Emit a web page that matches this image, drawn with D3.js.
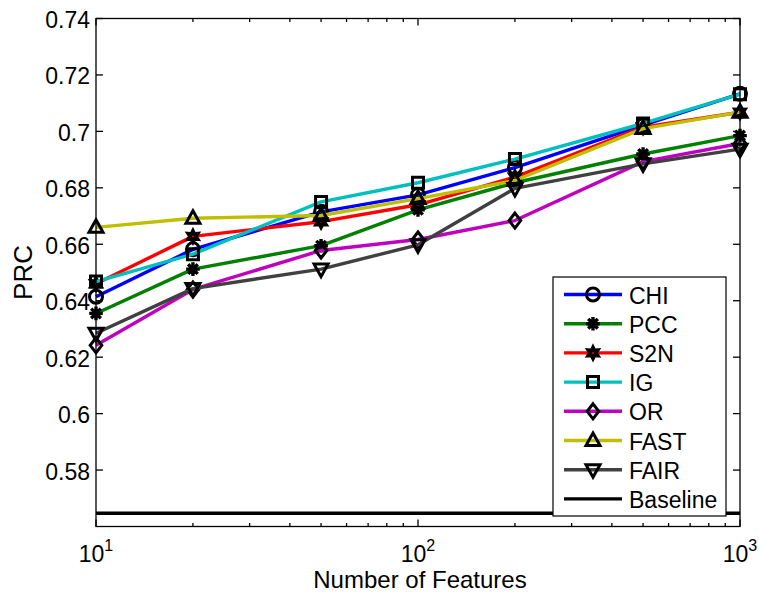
<!DOCTYPE html>
<html>
<head>
<meta charset="utf-8">
<script src="https://cdn.jsdelivr.net/npm/d3@7"></script>
<style>
  html, body { margin: 0; padding: 0; background: #fff; }
  svg { display: block; }
  text { font-family: "Liberation Sans", Arial, Helvetica, sans-serif; fill: #000; }
</style>
</head>
<body>
<svg id="chart" width="759" height="597"></svg>
<script>
// ---------- data ----------
const features = [10, 20, 50, 100, 200, 500, 1000];
const CHI  = [0.6414, 0.6582, 0.6715, 0.6775, 0.6872, 0.7022, 0.7133];
const PCC  = [0.6355, 0.6512, 0.6595, 0.6722, 0.6818, 0.6920, 0.6985];
const S2N  = [0.6460, 0.6628, 0.6680, 0.6740, 0.6838, 0.7015, 0.7068];
const IG   = [0.6468, 0.6565, 0.6750, 0.6818, 0.6902, 0.7028, 0.7132];
const OR   = [0.6242, 0.6440, 0.6578, 0.6617, 0.6684, 0.6893, 0.6957];
const FAST = [0.6660, 0.6692, 0.6702, 0.6762, 0.6826, 0.7010, 0.7068];
const FAIR = [0.6285, 0.6443, 0.6512, 0.6598, 0.6798, 0.6885, 0.6937];
const Baseline = [0.5647, 0.5647, 0.5647, 0.5647, 0.5647, 0.5647, 0.5647];

const seriesNames = ["CHI", "PCC", "S2N", "IG", "OR", "FAST", "FAIR", "Baseline"];
const seriesValues = [CHI, PCC, S2N, IG, OR, FAST, FAIR, Baseline];
const seriesColors = ["#0000ff", "#008000", "#ff0000", "#00bfbf", "#bf00bf", "#bfbf00", "#404040", "#000000"];
const seriesMarkers = ["circle", "asterisk", "hexagram", "square", "diamond", "triangleUp", "triangleDown", "none"];

const yTicks = [0.58, 0.60, 0.62, 0.64, 0.66, 0.68, 0.70, 0.72, 0.74];
const yTickLabels = ["0.58", "0.6", "0.62", "0.64", "0.66", "0.68", "0.7", "0.72", "0.74"];
const xTicks = [10, 100, 1000];
const xTickExponents = ["1", "2", "3"];
const xMinorTicks = [20, 30, 40, 50, 60, 70, 80, 90, 200, 300, 400, 500, 600, 700, 800, 900];
const xLabel = "Number of Features";
const yLabel = "PRC";

// ---------- layout ----------
const L = 96, R = 740, T = 18.5, B = 526.5;
const svg = d3.select("#chart");
const x = d3.scaleLog().domain([10, 1000]).range([L, R]);
const y = d3.scaleLinear().domain([0.56, 0.74]).range([B, T]);

const FS = 23;

// markers
function markerPath(type) {
  const p = d3.path();
  switch (type) {
    case "circle": p.arc(0, 0, 6.5, 0, 2 * Math.PI); break;
    case "square": p.rect(-5.5, -5.5, 11, 11); break;
    case "diamond": p.moveTo(0, -7.5); p.lineTo(5.8, 0); p.lineTo(0, 7.5); p.lineTo(-5.8, 0); p.closePath(); break;
    case "triangleUp": p.moveTo(0, -7.5); p.lineTo(7, 5); p.lineTo(-7, 5); p.closePath(); break;
    case "triangleDown": p.moveTo(0, 7.5); p.lineTo(7, -5); p.lineTo(-7, -5); p.closePath(); break;
    case "hexagram": {
      for (let i = 0; i < 12; i++) {
        const a = -Math.PI / 2 + i * Math.PI / 6;
        const r = i % 2 === 0 ? 7.8 : 4.2;
        if (i === 0) p.moveTo(r * Math.cos(a), r * Math.sin(a)); else p.lineTo(r * Math.cos(a), r * Math.sin(a));
      }
      p.closePath();
      break;
    }
    case "asterisk": {
      for (let i = 0; i < 8; i++) {
        const a = i * Math.PI / 4;
        p.moveTo(0, 0); p.lineTo(6.8 * Math.cos(a), 6.8 * Math.sin(a));
      }
      break;
    }
  }
  return p.toString();
}
function drawMarker(g, type, cx, cy, color) {
  if (type === "none") return;
  const m = g.append("path").attr("d", markerPath(type)).attr("transform", `translate(${cx},${cy})`)
    .attr("stroke", "#000").attr("stroke-linejoin", "miter");
  if (type === "asterisk") {
    m.attr("fill", "none").attr("stroke-width", 3.4);
    g.append("circle").attr("cx", cx).attr("cy", cy).attr("r", 4).attr("fill", "#000");
  } else if (type === "hexagram") {
    m.attr("fill", "#000").attr("stroke-width", 1.6);
    g.append("circle").attr("cx", cx).attr("cy", cy).attr("r", 1).attr("fill", color);
  } else {
    m.attr("fill", "none").attr("stroke-width", 3);
  }
}

// plot background
svg.append("rect").attr("x", L).attr("y", T).attr("width", R - L).attr("height", B - T).attr("fill", "#fff");

const plot = svg.append("g");
const line = d3.line().x((d, i) => x(features[i])).y(d => y(d));

seriesValues.forEach((vals, si) => {
  plot.append("path").datum(vals).attr("d", line)
    .attr("fill", "none").attr("stroke", seriesColors[si]).attr("stroke-width", 3.4)
    .attr("stroke-linejoin", "round");
  vals.forEach((v, i) => drawMarker(plot, seriesMarkers[si], x(features[i]), y(v), seriesColors[si]));
});

// axes box
const ax = svg.append("g").attr("stroke", "#000").attr("stroke-width", 1.3).attr("fill", "none");
ax.append("rect").attr("x", L).attr("y", T).attr("width", R - L).attr("height", B - T);

// y ticks
yTicks.forEach((t, i) => {
  const yy = y(t);
  ax.append("line").attr("x1", L).attr("x2", L + 7).attr("y1", yy).attr("y2", yy);
  ax.append("line").attr("x1", R).attr("x2", R - 7).attr("y1", yy).attr("y2", yy);
  svg.append("text").attr("x", L - 6).attr("y", yy + 1.5).attr("text-anchor", "end")
    .attr("dominant-baseline", "central").attr("font-size", FS).text(yTickLabels[i]);
});
// x major ticks
xTicks.forEach((t, i) => {
  const xx = x(t);
  ax.append("line").attr("x1", xx).attr("x2", xx).attr("y1", B).attr("y2", B - 7);
  ax.append("line").attr("x1", xx).attr("x2", xx).attr("y1", T).attr("y2", T + 7);
  const tx = svg.append("text").attr("x", xx).attr("y", 562).attr("text-anchor", "middle").attr("font-size", FS);
  tx.append("tspan").text("10");
  tx.append("tspan").attr("dy", -11).attr("font-size", 16).text(xTickExponents[i]);
});
// x minor ticks
xMinorTicks.forEach(t => {
  const xx = x(t);
  ax.append("line").attr("x1", xx).attr("x2", xx).attr("y1", B).attr("y2", B - 3.5);
  ax.append("line").attr("x1", xx).attr("x2", xx).attr("y1", T).attr("y2", T + 3.5);
});

// axis labels
svg.append("text").attr("x", (L + R) / 2 + 2).attr("y", 588).attr("text-anchor", "middle").attr("font-size", 24).text(xLabel);
svg.append("text").attr("transform", `translate(31.5,${(T + B) / 2}) rotate(-90)`).attr("text-anchor", "middle")
  .attr("font-size", 26).text(yLabel);

// legend
const lg = svg.append("g");
lg.append("rect").attr("x", 553).attr("y", 277).attr("width", 173).attr("height", 239)
  .attr("fill", "#fff").attr("stroke", "#000").attr("stroke-width", 1.2);
seriesNames.forEach((name, si) => {
  const ly = 294.5 + si * 29.2;
  lg.append("line").attr("x1", 564).attr("x2", 622).attr("y1", ly).attr("y2", ly)
    .attr("stroke", seriesColors[si]).attr("stroke-width", 3.4);
  drawMarker(lg, seriesMarkers[si], 593, ly, seriesColors[si]);
  lg.append("text").attr("x", 629).attr("y", ly + 1).attr("dominant-baseline", "central")
    .attr("font-size", FS).text(name);
});
</script>
</body>
</html>
